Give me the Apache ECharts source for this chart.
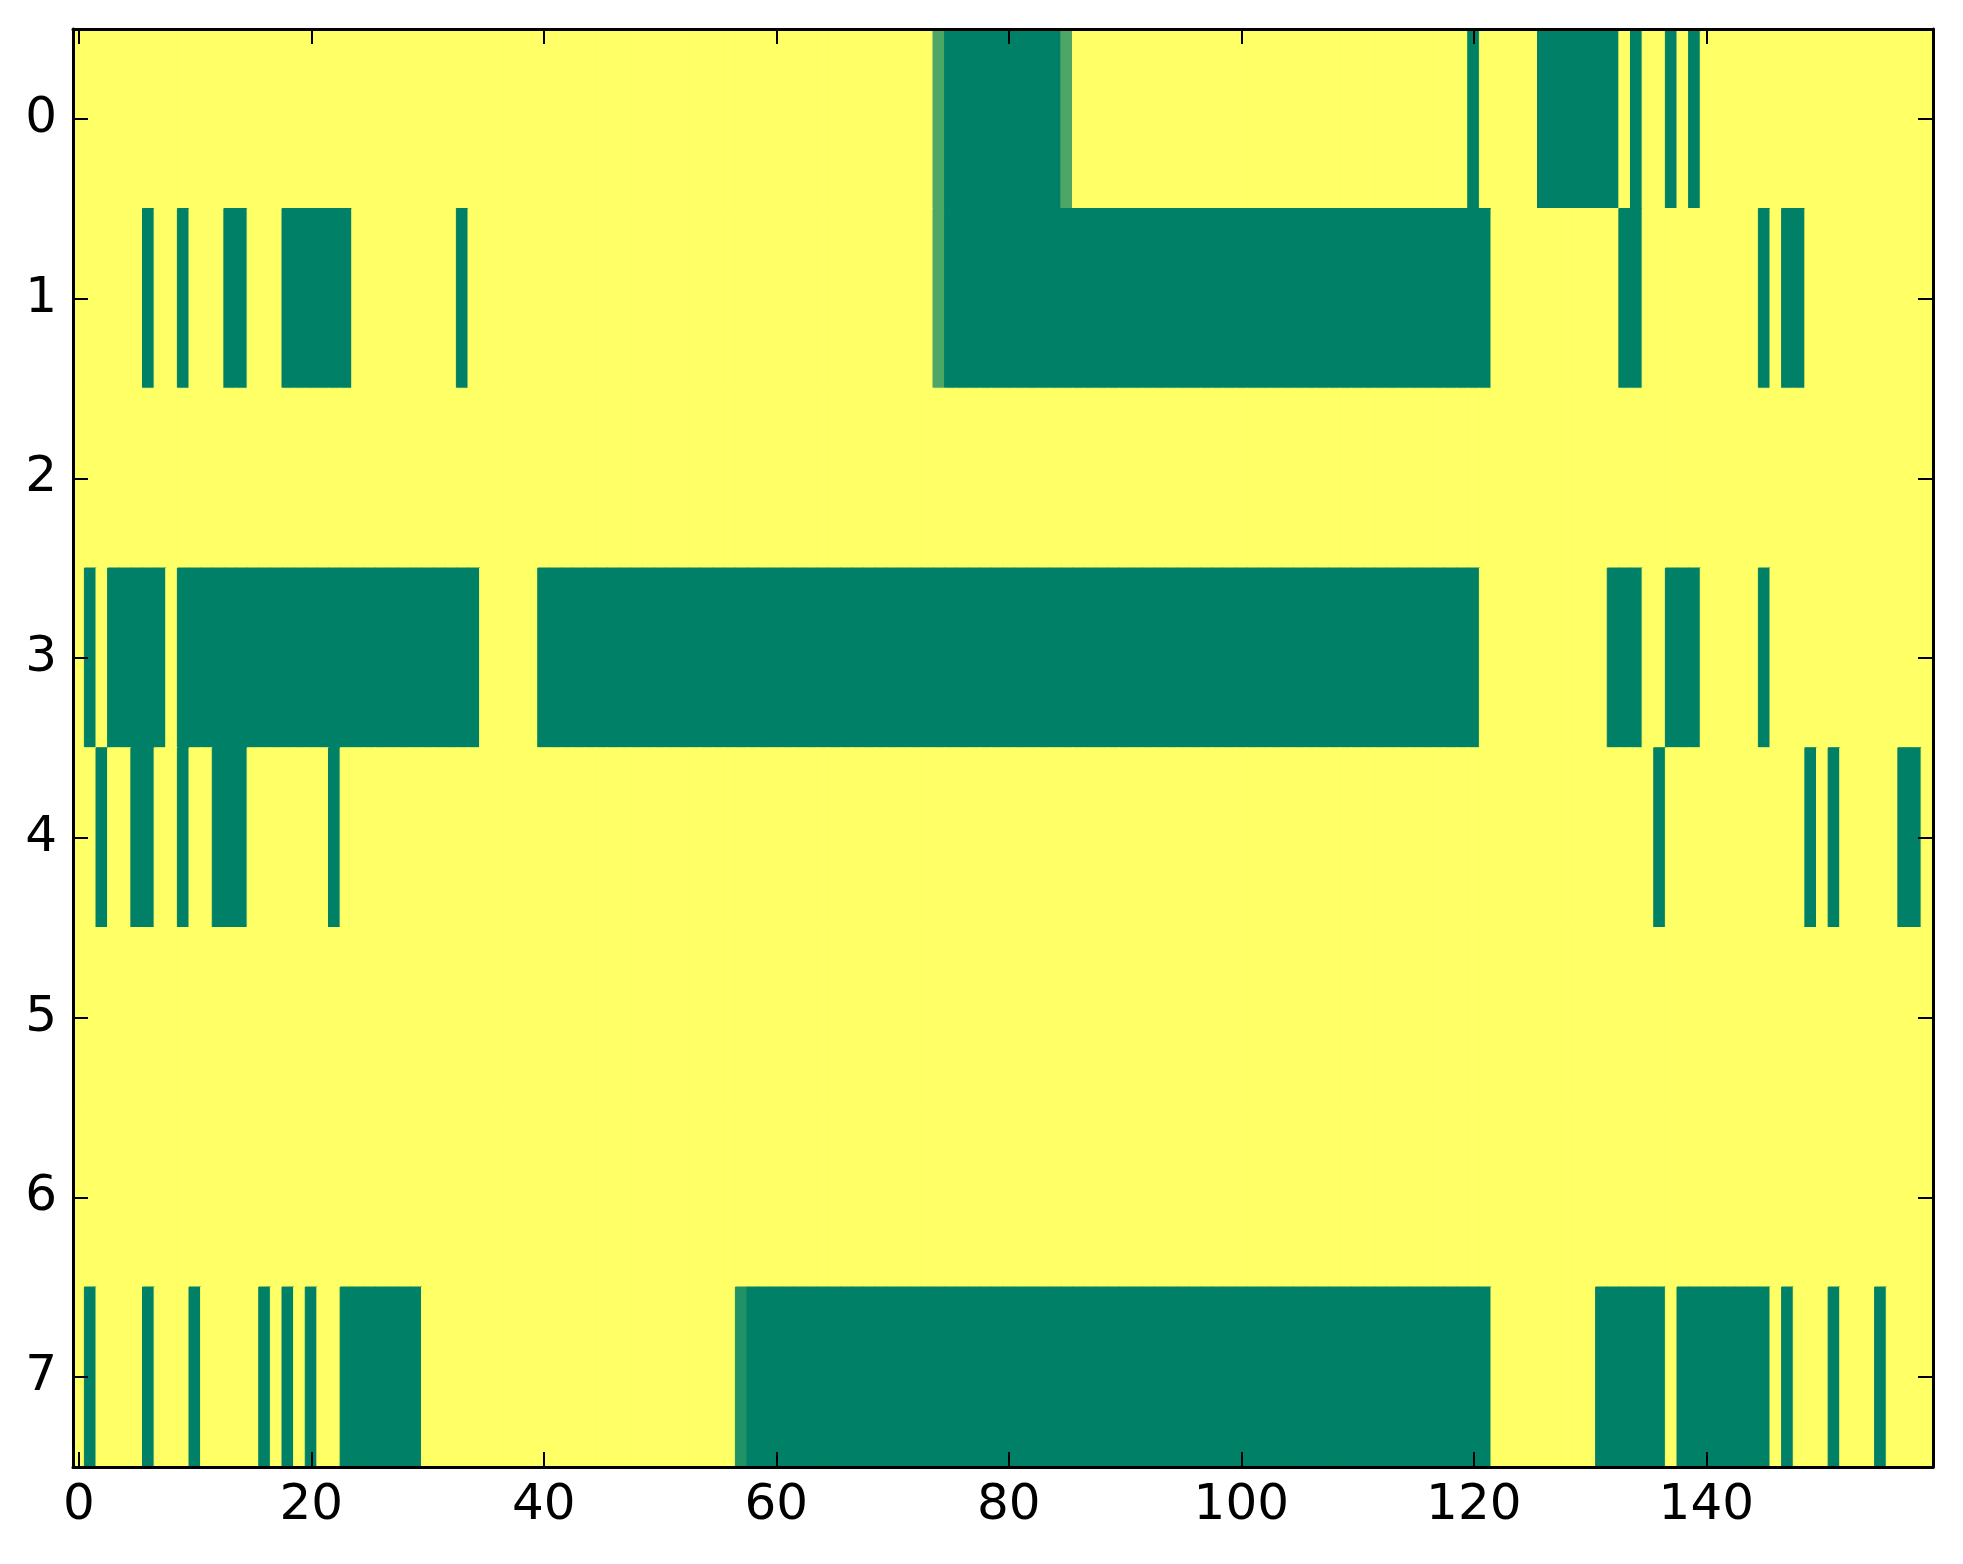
<!DOCTYPE html>
<html>
<head>
<meta charset="utf-8">
<title>heatmap</title>
<script src="https://cdn.jsdelivr.net/npm/echarts@6/dist/echarts.min.js"></script>
<style>
    html, body { margin: 0; padding: 0; background: #ffffff; }
    #chart { width: 1963px; height: 1564px; }
</style>
</head>
<body>
<div id="chart"></div>
<script>
// one char per column, 160 columns per row, spaces only split groups of 10
// '1' -> 1.0 (yellow), '0' -> 0.0 (green), 'a' -> 0.3, 'b' -> 0.13
var row0 = "1111111111 1111111111 1111111111 1111111111 1111111111 1111111111 1111111111 1111a00000 00000a1111 1111111111 1111111111 1111111111 0111110000 0001011010 1111111111 1111111111";
var row1 = "1111110110 1110011100 0000111111 1110111111 1111111111 1111111111 1111111111 1111a00000 0000000000 0000000000 0000000000 0000000000 0011111111 1110011111 1111101001 1111111111";
var row2 = "1111111111 1111111111 1111111111 1111111111 1111111111 1111111111 1111111111 1111111111 1111111111 1111111111 1111111111 1111111111 1111111111 1111111111 1111111111 1111111111";
var row3 = "1010000010 0000000000 0000000000 0000011111 0000000000 0000000000 0000000000 0000000000 0000000000 0000000000 0000000000 0000000000 0111111111 1100011000 1111101111 1111111111";
var row4 = "1101100110 1100011111 1101111111 1111111111 1111111111 1111111111 1111111111 1111111111 1111111111 1111111111 1111111111 1111111111 1111111111 1111110111 1111111110 1011111001";
var row5 = "1111111111 1111111111 1111111111 1111111111 1111111111 1111111111 1111111111 1111111111 1111111111 1111111111 1111111111 1111111111 1111111111 1111111111 1111111111 1111111111";
var row6 = "1111111111 1111111111 1111111111 1111111111 1111111111 1111111111 1111111111 1111111111 1111111111 1111111111 1111111111 1111111111 1111111111 1111111111 1111111111 1111111111";
var row7 = "1011110111 0111110101 0110000000 1111111111 1111111111 1111111b00 0000000000 0000000000 0000000000 0000000000 0000000000 0000000000 0011111111 1000000100 0000001011 1011101111";

var rows = [row0, row1, row2, row3, row4, row5, row6, row7];
var cellValues = { "1": 1, "0": 0, "a": 0.3, "b": 0.13 };
var rowLabels = ["0", "1", "2", "3", "4", "5", "6", "7"];
var xTickLabels = ["0", "20", "40", "60", "80", "100", "120", "140"];
// matplotlib "summer" end colours
var cmap = ["#008066", "#ffff66"];

(function () {
    var columns = [];
    var data = [];
    for (var r = 0; r < rows.length; r++) {
        var cells = rows[r].replace(/ /g, "");
        for (var c = 0; c < cells.length; c++) {
            var v = cellValues[cells.charAt(c)];
            // border in the cell's own colour hides the seams between cells
            data.push({
                value: [c, r, v],
                itemStyle: { borderWidth: 1, borderColor: echarts.color.lerp(v, cmap) }
            });
        }
    }
    for (var i = 0; i < rows[0].replace(/ /g, "").length; i++) {
        columns.push(String(i));
    }

    function showX(index, value) {
        return xTickLabels.indexOf(value) >= 0;
    }

    var labelFont = {
        color: "#000000",
        fontFamily: "DejaVu Sans",
        fontSize: 50
    };

    var myChart = echarts.init(document.getElementById("chart"));
    var option = {
        backgroundColor: "#ffffff",
        animation: false,
        grid: {
            left: 73,
            top: 29,
            width: 1860,
            height: 1438
        },
        xAxis: [
            {
                type: "category",
                position: "bottom",
                data: columns,
                z: 10,
                axisLine: { show: true, lineStyle: { color: "#000", width: 3 } },
                axisTick: { show: true, inside: true, length: 15, alignWithLabel: true, interval: showX,
                    lineStyle: { color: "#000", width: 2 } },
                axisLabel: Object.assign({ interval: showX, margin: 14 }, labelFont),
                splitLine: { show: false }
            },
            {
                type: "category",
                position: "top",
                data: columns,
                z: 10,
                axisLine: { show: true, lineStyle: { color: "#000", width: 3 } },
                axisTick: { show: true, inside: true, length: 15, alignWithLabel: true, interval: showX,
                    lineStyle: { color: "#000", width: 2 } },
                axisLabel: { show: false },
                splitLine: { show: false }
            }
        ],
        yAxis: [
            {
                type: "category",
                position: "left",
                inverse: true,
                data: rowLabels,
                z: 10,
                axisLine: { show: true, lineStyle: { color: "#000", width: 3 } },
                axisTick: { show: true, inside: true, length: 15, alignWithLabel: true,
                    lineStyle: { color: "#000", width: 2 } },
                axisLabel: Object.assign({ margin: 16 }, labelFont),
                splitLine: { show: false }
            },
            {
                type: "category",
                position: "right",
                inverse: true,
                data: rowLabels,
                z: 10,
                axisLine: { show: true, lineStyle: { color: "#000", width: 3 } },
                axisTick: { show: true, inside: true, length: 15, alignWithLabel: true,
                    lineStyle: { color: "#000", width: 2 } },
                axisLabel: { show: false },
                splitLine: { show: false }
            }
        ],
        visualMap: {
            show: false,
            min: 0,
            max: 1,
            calculable: false,
            inRange: { color: cmap }
        },
        series: [
            {
                type: "heatmap",
                xAxisIndex: 0,
                yAxisIndex: 0,
                data: data,
                progressive: 0,
                emphasis: { disabled: true }
            }
        ]
    };

    myChart.setOption(option);
    window.addEventListener("resize", function () {
        myChart.resize();
    });
})();
</script>
</body>
</html>
